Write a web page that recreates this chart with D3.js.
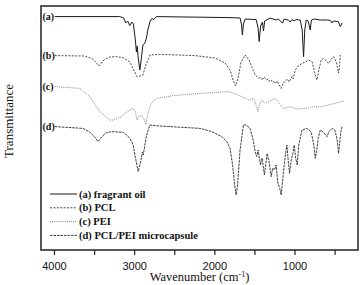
<!DOCTYPE html>
<html>
<head>
<meta charset="utf-8">
<script src="https://cdn.jsdelivr.net/npm/d3@7"></script>
<style>
  body { margin: 0; background: #fff; }
  svg { display: block; }
</style>
</head>
<body>
<div id="chart"></div>
<script>
// FTIR spectra, [wavenumber cm-1, transmittance (a.u., stacked)]
var fragrantOil = [[3990,116.7],[3180,116.7],[3130,116],[3105,113.5],[3080,114.5],[3055,112.2],[3030,114],[3010,113],[2985,105],[2972,99],[2962,102],[2947,95],[2929,90],[2910,96],[2891,102.5],[2866,103.5],[2847,106],[2829,110],[2804,114],[2779,115.8],[2754,115.2],[2722,116.7],[1804,116.2],[1679,116],[1660,112.5],[1650,107.5],[1637,113],[1616,115.5],[1479,115.2],[1454,111],[1441,104.2],[1422,112],[1400,114],[1387,109.5],[1372,114.5],[1304,116],[1229,115],[1204,115.5],[1150,113.5],[1129,115.5],[1079,115],[1054,114],[1032,115.2],[1004,114.5],[979,115.2],[929,115],[904,110],[887,96.7],[872,110],[854,115],[829,114.5],[804,110],[789,115],[754,115.5],[679,115],[604,115],[554,114.8],[532,113.5],[516,114.5],[454,114.2],[429,111.7],[407,113.5]];

var pcl = [[3990,97.2],[3616,97],[3516,95.5],[3437,92],[3379,95],[3304,96.5],[3216,96.7],[3129,96],[3054,94],[3004,90],[2966,86.7],[2929,87],[2891,87.5],[2854,92.5],[2804,97.5],[2679,97.8],[2241,97.2],[1991,96],[1866,93.5],[1804,90],[1766,85],[1735,82],[1704,86],[1666,94],[1616,97.5],[1566,95],[1516,90],[1491,87.5],[1470,86.7],[1450,85.8],[1429,86.5],[1404,85],[1379,86.5],[1345,85],[1329,85.5],[1304,84],[1279,85],[1241,83.3],[1216,84.5],[1191,82.5],[1166,80.8],[1141,83.5],[1116,84.2],[1091,85.5],[1066,84],[1032,86.7],[1016,85.5],[991,90],[954,92],[907,93.3],[866,94],[825,95],[779,94],[741,87.5],[720,85],[697,90],[666,95],[637,95.8],[604,94.5],[575,93.3],[541,95.5],[512,96.7],[479,94],[450,88.5],[437,92.5],[429,97.5]];

var pei = [[3990,81.7],[3679,80.8],[3554,76.7],[3429,69.2],[3304,65],[3282,64.8],[3229,65.5],[3157,66.7],[3091,69],[3012,70.8],[2985,69],[2962,65],[2941,67],[2907,67.2],[2879,65.5],[2854,62.8],[2829,68],[2804,71.7],[2766,74.5],[2720,75.8],[2512,77.2],[2179,78.3],[1825,79.2],[1700,77.5],[1575,75],[1512,75.8],[1485,73],[1457,69.2],[1435,73],[1407,75],[1366,73.3],[1304,74.5],[1241,75.8],[1191,73.5],[1137,70.8],[1054,71.7],[966,70.5],[866,70.8],[754,71.7],[679,71.5],[575,72.5],[479,73.5],[387,74.5]];

var microcapsule = [[3990,61.7],[3637,60.8],[3554,59],[3491,56.5],[3450,54.2],[3404,56.5],[3354,58.5],[3282,59.2],[3137,58.8],[3079,57],[3041,55],[3012,52.5],[2991,47.5],[2966,42.5],[2950,39.2],[2929,42.5],[2910,46],[2897,49],[2887,47.5],[2872,51],[2845,57.5],[2804,62.5],[2679,62],[2179,60.8],[2032,59.2],[1907,56.7],[1841,54],[1804,50.8],[1772,42.5],[1747,32.5],[1729,27.5],[1710,32.5],[1679,50],[1637,62.5],[1604,62.5],[1554,60.8],[1516,55],[1491,49.2],[1472,46.7],[1454,50],[1425,42.5],[1404,46],[1375,37.5],[1360,42.5],[1341,48.3],[1316,44],[1291,36.7],[1272,41],[1250,40],[1229,42.5],[1207,33.3],[1185,31],[1166,27.5],[1141,37.5],[1116,46.7],[1095,52.5],[1079,45],[1062,38.3],[1041,45],[1020,48.3],[1004,52.5],[985,46],[966,42.5],[947,52.5],[907,60],[845,60.8],[791,59],[760,52.5],[741,45.8],[722,50],[704,56],[679,60],[641,59],[595,56.7],[566,59.5],[532,60.8],[497,60],[472,56],[450,48.3],[435,54],[422,59],[407,61.7]];

var seriesTags = ["(a)", "(b)", "(c)", "(d)"];
var legendNames = ["(a) fragrant oil", "(b) PCL", "(c) PEI", "(d) PCL/PEI microcapsule"];
var xTicks = [4000, 3500, 3000, 2500, 2000, 1500, 1000, 500];

// set the dimensions and margins of the graph
var margin = { top: 6, right: 4, bottom: 35, left: 41 },
    width = 362 - margin.left - margin.right,
    height = 285 - margin.top - margin.bottom;

var svg = d3.select("#chart")
    .append("svg")
    .attr("width", 362)
    .attr("height", 285)
    .append("g")
    .attr("transform", "translate(" + margin.left + "," + margin.top + ")");

var x = d3.scaleLinear().domain([4162, 208]).range([0, width]);
var y = d3.scaleLinear().domain([0, 122]).range([height, 0]);

var styles = [
    { color: "#1a1a1a", dash: null, w: 1 },
    { color: "#333", dash: "2,1.4", w: 0.9 },
    { color: "#777", dash: "1,1.1", w: 0.9 },
    { color: "#2a2a2a", dash: "2.6,0.9", w: 0.9 }
];
var allSeries = [fragrantOil, pcl, pei, microcapsule];

var line = d3.line()
    .x(function (d) { return x(d[0]); })
    .y(function (d) { return y(d[1]); });

allSeries.forEach(function (s, i) {
    svg.append("path")
        .datum(s)
        .attr("fill", "none")
        .attr("stroke", styles[i].color)
        .attr("stroke-width", styles[i].w)
        .attr("stroke-dasharray", styles[i].dash)
        .attr("d", line);

    // tag at the start of each curve
    svg.append("text")
        .attr("x", 1.5)
        .attr("y", y(s[0][1]))
        .attr("dy", "0.35em")
        .style("font", "bold 10px 'Liberation Serif', serif")
        .style("fill", "#111")
        .text(seriesTags[i]);
});

// X axis
var xAxis = svg.append("g")
    .attr("transform", "translate(0," + height + ")")
    .call(d3.axisBottom(x)
        .tickValues(xTicks)
        .tickSize(5)
        .tickFormat(function (d) { return d % 1000 === 0 ? d : ""; }));
xAxis.select(".domain").remove();
xAxis.selectAll("line").attr("stroke", "#222").attr("stroke-width", 1.2);
xAxis.selectAll("text")
    .attr("dy", "1.05em")
    .style("font", "11px 'Liberation Sans', Arial, sans-serif")
    .style("fill", "#111");

// frame
svg.append("rect")
    .attr("width", width)
    .attr("height", height)
    .attr("fill", "none")
    .attr("stroke", "#222")
    .attr("stroke-width", 1.5);

// axis titles
svg.append("text")
    .attr("text-anchor", "middle")
    .attr("x", width / 2 + 0)
    .attr("y", height + 31)
    .style("font", "12.5px 'Liberation Serif', serif")
    .style("fill", "#111")
    .html("Wavenumber (cm<tspan baseline-shift='super' font-size='8px'>-1</tspan>)");

svg.append("text")
    .attr("text-anchor", "middle")
    .attr("transform", "rotate(-90)")
    .attr("x", -115)
    .attr("y", -28)
    .style("font", "13px 'Liberation Serif', serif")
    .style("fill", "#111")
    .text("Transmittance");

// legend
var legend = svg.append("g").attr("transform", "translate(9,188)");
legendNames.forEach(function (name, i) {
    var row = legend.append("g").attr("transform", "translate(0," + (i * 13.8) + ")");
    row.append("line")
        .attr("x1", 0).attr("x2", 27)
        .attr("stroke", styles[i].color)
        .attr("stroke-width", styles[i].w)
        .attr("stroke-dasharray", styles[i].dash);
    row.append("text")
        .attr("x", 29)
        .attr("dy", "0.35em")
        .style("font", "bold 10.5px 'Liberation Serif', serif")
        .style("fill", "#111")
        .text(name);
});
</script>
</body>
</html>
